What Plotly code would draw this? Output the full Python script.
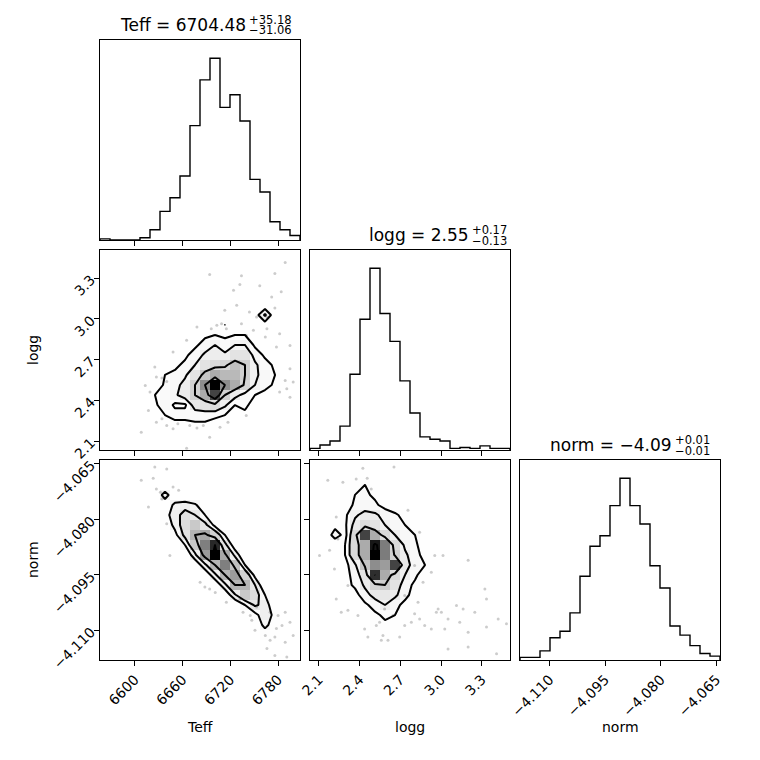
import numpy as np
import plotly.graph_objects as go

FIG = 760
n_bins = 20

# parameter ranges shared by every panel
teff_range = [6556.1, 6807.6]
logg_range = [2.035, 3.507]
norm_range = [-4.118, -4.064]

teff_ticks = [6600, 6660, 6720, 6780]
teff_ticktext = ["6600", "6660", "6720", "6780"]
logg_ticks = [2.1, 2.4, 2.7, 3.0, 3.3]
logg_ticktext = ["2.1", "2.4", "2.7", "3.0", "3.3"]
norm_ticks = [-4.110, -4.095, -4.080, -4.065]
norm_ticktext = ["−4.110", "−4.095", "−4.080", "−4.065"]

# 1D histogram counts, left to right
teff_counts = [1, 0, 0, 0, 2, 9, 25, 37, 56, 100, 140, 159, 116, 127, 104, 53, 42, 16, 9, 4]
logg_counts = [2, 6, 11, 29, 92, 159, 221, 166, 132, 84, 45, 16, 13, 11, 2, 3, 2, 5, 2, 2]
norm_counts = [2, 2, 7, 17, 22, 36, 64, 87, 95, 118, 139, 118, 104, 72, 55, 26, 19, 11, 5, 3]

# titles: main text, upper error, lower error
teff_title = ["Teff = 6704.48", "+35.18", "−31.06"]
logg_title = ["logg = 2.55", "+0.17", "−0.13"]
norm_title = ["norm = −4.09", "+0.01", "−0.01"]

# 2D histogram cores (top row first, columns left to right)
teff_logg_core = [
    [0] * 20, [0] * 20, [0] * 20, [0] * 20, [0] * 20, [0] * 20,
    [0, 0, 0, 0, 0, 0, 0, 0, 0, 0, 0, 0, 1, 0, 0, 0, 9, 0, 0, 0],
    [0, 0, 0, 0, 0, 0, 0, 0, 0, 0, 0, 0, 2, 0, 2, 2, 0, 0, 0, 0],
    [0, 0, 0, 0, 0, 0, 0, 0, 0, 0, 3, 4, 3, 4, 3, 0, 0, 0, 0, 0],
    [0, 0, 0, 0, 0, 0, 0, 0, 0, 3, 6, 9, 6, 9, 9, 3, 0, 0, 0, 0],
    [0, 0, 0, 0, 0, 0, 0, 0, 3, 6, 10, 11, 10, 14, 14, 7, 3, 0, 0, 0],
    [0, 0, 0, 0, 0, 0, 0, 3, 5, 9, 14, 16, 17, 21, 18, 10, 6, 3, 0, 0],
    [0, 0, 0, 0, 0, 0, 3, 5, 8, 14, 20, 24, 22, 22, 18, 10, 7, 4, 0, 0],
    [0, 0, 0, 0, 0, 0, 4, 7, 11, 18, 28, 42, 28, 24, 17, 9, 6, 3, 0, 0],
    [0, 0, 0, 0, 0, 3, 6, 8, 12, 18, 24, 36, 18, 11, 7, 4, 2, 0, 0, 0],
    [0, 0, 0, 0, 0, 3, 7, 3, 3, 12, 14, 16, 10, 4, 5, 2, 0, 0, 0, 0],
    [0, 0, 0, 0, 0, 0, 3, 6, 6, 6, 6, 5, 4, 1, 2, 0, 0, 0, 0, 0],
    [0, 0, 0, 0, 0, 0, 0, 0, 1, 2, 2, 2, 1, 0, 0, 0, 0, 0, 0, 0],
    [0] * 20, [0] * 20,
]

teff_norm_core = [
    [0] * 20, [0] * 20, [0] * 20,
    [0, 0, 0, 0, 0, 0, 10, 0, 0, 0, 0, 0, 0, 0, 0, 0, 0, 0, 0, 0],
    [0, 0, 0, 0, 0, 0, 2, 10, 12, 9, 3, 0, 0, 0, 0, 0, 0, 0, 0, 0],
    [0, 0, 0, 0, 0, 0, 5, 12, 16, 14, 8, 2, 0, 0, 0, 0, 0, 0, 0, 0],
    [0, 0, 0, 0, 0, 0, 2, 10, 18, 22, 16, 6, 0, 0, 0, 0, 0, 0, 0, 0],
    [0, 0, 0, 0, 0, 0, 0, 6, 16, 26, 28, 20, 8, 0, 0, 0, 0, 0, 0, 0],
    [0, 0, 0, 0, 0, 0, 0, 0, 8, 22, 34, 44, 16, 4, 0, 0, 0, 0, 0, 0],
    [0, 0, 0, 0, 0, 0, 0, 0, 2, 12, 30, 48, 28, 12, 2, 0, 0, 0, 0, 0],
    [0, 0, 0, 0, 0, 0, 0, 0, 0, 3, 12, 26, 34, 24, 8, 0, 0, 0, 0, 0],
    [0, 0, 0, 0, 0, 0, 0, 0, 0, 0, 3, 12, 26, 30, 20, 6, 0, 0, 0, 0],
    [0, 0, 0, 0, 0, 0, 0, 0, 0, 0, 0, 3, 12, 26, 26, 14, 2, 0, 0, 0],
    [0, 0, 0, 0, 0, 0, 0, 0, 0, 0, 0, 0, 3, 12, 22, 18, 8, 0, 0, 0],
    [0, 0, 0, 0, 0, 0, 0, 0, 0, 0, 0, 0, 0, 2, 8, 14, 12, 2, 0, 0],
    [0, 0, 0, 0, 0, 0, 0, 0, 0, 0, 0, 0, 0, 0, 2, 5, 12, 4, 0, 0],
    [0, 0, 0, 0, 0, 0, 0, 0, 0, 0, 0, 0, 0, 0, 0, 2, 10, 3, 0, 0],
    [0, 0, 0, 0, 0, 0, 0, 0, 0, 0, 0, 0, 0, 0, 0, 0, 3, 2, 0, 0],
    [0] * 20, [0] * 20,
]

logg_norm_core = [
    [0] * 20,
    [0, 0, 0, 0, 1, 2, 0, 0, 0, 0, 0, 0, 0, 0, 0, 0, 0, 0, 0, 0],
    [0, 0, 0, 1, 4, 5, 2, 0, 0, 0, 0, 0, 0, 0, 0, 0, 0, 0, 0, 0],
    [0, 0, 0, 2, 5, 6, 4, 1, 0, 0, 0, 0, 0, 0, 0, 0, 0, 0, 0, 0],
    [0, 0, 0, 2, 6, 7, 6, 3, 1, 0, 0, 0, 0, 0, 0, 0, 0, 0, 0, 0],
    [0, 0, 0, 4, 9, 12, 11, 8, 6, 2, 0, 0, 0, 0, 0, 0, 0, 0, 0, 0],
    [0, 0, 3, 4, 12, 16, 14, 10, 7, 5, 2, 0, 0, 0, 0, 0, 0, 0, 0, 0],
    [0, 0, 7, 3, 16, 36, 24, 16, 10, 7, 4, 1, 0, 0, 0, 0, 0, 0, 0, 0],
    [0, 0, 0, 5, 16, 24, 40, 30, 16, 9, 6, 2, 0, 0, 0, 0, 0, 0, 0, 0],
    [0, 0, 0, 5, 16, 24, 42, 30, 18, 11, 7, 3, 0, 0, 0, 0, 0, 0, 0, 0],
    [0, 0, 0, 3, 9, 20, 28, 26, 36, 12, 7, 5, 0, 0, 0, 0, 0, 0, 0, 0],
    [0, 0, 0, 3, 7, 14, 38, 24, 16, 10, 6, 2, 0, 0, 0, 0, 0, 0, 0, 0],
    [0, 0, 0, 2, 6, 11, 17, 19, 14, 7, 4, 0, 0, 0, 0, 0, 0, 0, 0, 0],
    [0, 0, 0, 0, 3, 8, 12, 13, 11, 6, 2, 0, 0, 0, 0, 0, 0, 0, 0, 0],
    [0, 0, 0, 0, 0, 4, 7, 9, 7, 3, 0, 0, 0, 0, 0, 0, 0, 0, 0, 0],
    [0, 0, 0, 0, 0, 2, 4, 6, 4, 2, 0, 0, 0, 0, 0, 0, 0, 0, 0, 0],
    [0, 0, 0, 0, 0, 0, 2, 4, 2, 0, 0, 0, 0, 0, 0, 0, 0, 0, 0, 0],
    [0, 0, 0, 0, 0, 0, 0, 1, 0, 0, 0, 0, 0, 0, 0, 0, 0, 0, 0, 0],
    [0] * 20, [0] * 20,
]

# scattered samples outside the contours
tl_teff = [6694, 6734, 6732, 6757, 6789, 6772, 6784, 6776, 6728, 6744, 6753, 6776, 6766, 6734,
           6724, 6678, 6703, 6709, 6696, 6715, 6713, 6766, 6764, 6782, 6740, 6749, 6665, 6648,
           6795, 6789, 6799, 6791, 6795, 6782, 6627, 6625, 6634, 6640, 6613, 6619, 6617, 6608,
           6627, 6634, 6640, 6648, 6654, 6669, 6678, 6686, 6694, 6665, 6707, 6717, 6740, 6795, 6778]
tl_logg = [3.327, 3.317, 3.253, 3.243, 3.415, 3.162, 3.199, 3.334, 3.100, 3.051, 3.014, 3.081,
           3.014, 2.965, 3.211, 2.940, 2.953, 2.965, 2.928, 2.928, 3.064, 2.928, 2.867, 2.891,
           2.879, 2.916, 2.842, 2.756, 2.633, 2.547, 2.535, 2.486, 2.424, 2.461, 2.572, 2.645,
           2.564, 2.540, 2.510, 2.461, 2.326, 2.166, 2.240, 2.265, 2.215, 2.191, 2.228, 2.215,
           2.196, 2.215, 2.129, 2.048, 2.203, 2.240, 2.289, 2.805, 2.793]

tn_teff = [6625, 6640, 6608, 6623, 6627, 6632, 6648, 6655, 6634, 6617, 6640, 6644, 6688, 6694,
           6701, 6715, 6736, 6745, 6747, 6751, 6764, 6770, 6776, 6778, 6785, 6789, 6795, 6799,
           6766, 6776, 6791, 6770, 6780, 6789, 6732, 6753, 6682]
tn_norm = [-4.0659, -4.0664, -4.0695, -4.0689, -4.0718, -4.0727, -4.0713, -4.0722, -4.0745,
           -4.0767, -4.0812, -4.0898, -4.0983, -4.0988, -4.0998, -4.1024, -4.1051, -4.1060,
           -4.1073, -4.1100, -4.1114, -4.1127, -4.1118, -4.1095, -4.1087, -4.1051, -4.1078,
           -4.1114, -4.1149, -4.1168, -4.1172, -4.1051, -4.1060, -4.1132, -4.1015, -4.1037, -4.0970]

ln_logg = [2.166, 2.277, 2.375, 2.424, 2.456, 2.653, 2.486, 2.228, 2.240, 2.179, 2.105, 2.215,
           2.228, 2.314, 2.265, 2.314, 2.388, 2.437, 2.461, 2.523, 2.572, 2.609, 2.732, 2.781,
           2.805, 2.842, 2.879, 2.928, 2.965, 2.978, 3.002, 3.051, 3.027, 3.113, 3.137, 3.199,
           3.051, 3.199, 3.248, 3.322, 3.334, 3.420, 3.481, 3.334, 3.408, 2.805, 2.953, 3.014,
           2.928, 2.867, 2.842, 2.756, 2.732, 2.584, 2.646, 2.547, 2.560, 2.695, 2.830, 3.162, 3.199]
ln_norm = [-4.0695, -4.0700, -4.0691, -4.0662, -4.0689, -4.0659, -4.0718, -4.0794, -4.0853,
           -4.0884, -4.0898, -4.0934, -4.1015, -4.0979, -4.1051, -4.1046, -4.1060, -4.1096,
           -4.1118, -4.1087, -4.1114, -4.1127, -4.1087, -4.1078, -4.1055, -4.1069, -4.1087,
           -4.1096, -4.1051, -4.1042, -4.1051, -4.1069, -4.1096, -4.1033, -4.1078, -4.1105,
           -4.1150, -4.1145, -4.1051, -4.0988, -4.1015, -4.1069, -4.1082, -4.1091, -4.1163,
           -4.0925, -4.0898, -4.0898, -4.0943, -4.0970, -4.0835, -4.0776, -4.1006, -4.1042,
           -4.1060, -4.1078, -4.1127, -4.1118, -4.1024, -4.1042, -4.0911]

FONT = "DejaVu Sans"


def edges(r):
    return np.linspace(r[0], r[1], n_bins + 1)


def centers(r):
    e = edges(r)
    return 0.5 * (e[1:] + e[:-1])


def sigma_levels(H):
    # same recipe as corner.py: 0.5, 1, 1.5, 2 sigma mass fractions
    levels = 1.0 - np.exp(-0.5 * np.arange(0.5, 2.1, 0.5) ** 2)
    flat = np.sort(H.flatten())[::-1]
    cum = np.cumsum(flat) / flat.sum()
    V = []
    for lv in levels:
        below = flat[cum <= lv]
        V.append(below[-1] if len(below) else flat[0])
    return sorted(V)


def hist_trace(counts, r, n):
    e = edges(r)
    xs = np.repeat(e, 2)
    ys = np.concatenate([[0], np.repeat(counts, 2), [0]])
    return go.Scatter(x=xs, y=ys, mode="lines", line=dict(color="black", width=1.4),
                      xaxis="x" + n, yaxis="y" + n, hoverinfo="skip")


def density_traces(core, px, py, xr, yr, n):
    extra, _, _ = np.histogram2d(px, py, bins=n_bins, range=[xr, yr])
    H = np.flipud(np.array(core, float)) + extra.T
    xc, yc = centers(xr), centers(yr)
    out = [go.Scatter(x=px, y=py, mode="markers",
                      marker=dict(size=3, color="rgba(0,0,0,0.2)", line=dict(width=0)),
                      xaxis="x" + n, yaxis="y" + n, hoverinfo="skip")]
    scale = [[h, "rgba(%d,%d,%d,%.2f)" % (255 * (1 - h), 255 * (1 - h), 255 * (1 - h), h)]
             for h in np.linspace(0, 1, 11)]
    out.append(go.Heatmap(x=xc, y=yc, z=np.where(H > 0, H, np.nan), zmin=0, zmax=H.max(),
                          colorscale=scale, showscale=False, hoverinfo="skip",
                          xaxis="x" + n, yaxis="y" + n))
    for v in sigma_levels(H):
        out.append(go.Contour(x=xc, y=yc, z=H, autocontour=False,
                              contours=dict(start=v - 0.01, end=v - 0.01, size=1, coloring="none"),
                              line=dict(color="black", width=2, smoothing=0),
                              showscale=False, hoverinfo="skip",
                              xaxis="x" + n, yaxis="y" + n))
    return out


traces = []
traces.append(hist_trace(teff_counts, teff_range, ""))
traces += density_traces(teff_logg_core, tl_teff, tl_logg, teff_range, logg_range, "2")
traces.append(hist_trace(logg_counts, logg_range, "3"))
traces += density_traces(teff_norm_core, tn_teff, tn_norm, teff_range, norm_range, "4")
traces += density_traces(logg_norm_core, ln_logg, ln_norm, logg_range, norm_range, "5")
traces.append(hist_trace(norm_counts, norm_range, "6"))

fig = go.Figure(data=traces)


def xdom(a, b):
    return [a / FIG, b / FIG]


def ydom(top, bottom):
    return [1 - bottom / FIG, 1 - top / FIG]


common = dict(showline=True, mirror=True, linecolor="black", linewidth=1, ticks="outside",
              ticklen=5, tickwidth=1, tickcolor="black", showgrid=False, zeroline=False,
              automargin=False, tickfont=dict(family=FONT, size=14, color="black"),
              tickangle=-45)
nolab = dict(common, ticks="", showticklabels=False)

fig.update_layout(
    width=FIG, height=FIG, margin=dict(l=0, r=0, t=0, b=0, autoexpand=False),
    paper_bgcolor="white", plot_bgcolor="white", showlegend=False,
    xaxis=dict(common, domain=xdom(100, 300), anchor="y", range=teff_range,
               tickvals=teff_ticks, showticklabels=False),
    yaxis=dict(nolab, domain=ydom(40, 240), anchor="x", range=[0, 1.1 * max(teff_counts)]),
    xaxis2=dict(common, domain=xdom(100, 300), anchor="y2", range=teff_range,
                tickvals=teff_ticks, showticklabels=False),
    yaxis2=dict(common, domain=ydom(250, 450), anchor="x2", range=logg_range,
                tickvals=logg_ticks, ticktext=logg_ticktext),
    xaxis3=dict(common, domain=xdom(310, 510), anchor="y3", range=logg_range,
                tickvals=logg_ticks, showticklabels=False),
    yaxis3=dict(nolab, domain=ydom(250, 450), anchor="x3", range=[0, 1.1 * max(logg_counts)]),
    xaxis4=dict(common, domain=xdom(100, 300), anchor="y4", range=teff_range,
                tickvals=teff_ticks, ticktext=teff_ticktext),
    yaxis4=dict(common, domain=ydom(460, 660), anchor="x4", range=norm_range,
                tickvals=norm_ticks, ticktext=norm_ticktext),
    xaxis5=dict(common, domain=xdom(310, 510), anchor="y5", range=logg_range,
                tickvals=logg_ticks, ticktext=logg_ticktext),
    yaxis5=dict(common, domain=ydom(460, 660), anchor="x5", range=norm_range,
                tickvals=norm_ticks, showticklabels=False),
    xaxis6=dict(common, domain=xdom(520, 720), anchor="y6", range=norm_range,
                tickvals=norm_ticks, ticktext=norm_ticktext),
    yaxis6=dict(nolab, domain=ydom(460, 660), anchor="x6", range=[0, 1.1 * max(norm_counts)]),
)

ann = []


def title(parts, x_split, y_mid):
    main, up, low = parts
    ann.append(dict(text=main, x=x_split / FIG, y=1 - y_mid / FIG, xanchor="right",
                    yanchor="middle", font=dict(family=FONT, size=17, color="black")))
    ann.append(dict(text=up, x=(x_split + 1) / FIG, y=1 - (y_mid - 5) / FIG, xanchor="left",
                    yanchor="middle", font=dict(family=FONT, size=11.5, color="black")))
    ann.append(dict(text=low, x=(x_split + 1) / FIG, y=1 - (y_mid + 5.5) / FIG, xanchor="left",
                    yanchor="middle", font=dict(family=FONT, size=11.5, color="black")))


title(teff_title, 247, 25)
title(logg_title, 470, 235)
title(norm_title, 673, 445)


def label(text, x, y, angle=0):
    ann.append(dict(text=text, x=x / FIG, y=1 - y / FIG, xanchor="center", yanchor="middle",
                    textangle=angle, font=dict(family=FONT, size=14, color="black")))


label("Teff", 200, 727)
label("logg", 410, 727)
label("norm", 620, 727)
label("logg", 33, 350, -90)
label("norm", 33, 560, -90)

for a in ann:
    a.update(xref="paper", yref="paper", showarrow=False, borderpad=0)
fig.update_layout(annotations=ann)

# the page body keeps its default 8px margin otherwise
fig.write_html("out.html", config={"displayModeBar": False},
               post_script="document.body.style.margin = '0px';")
